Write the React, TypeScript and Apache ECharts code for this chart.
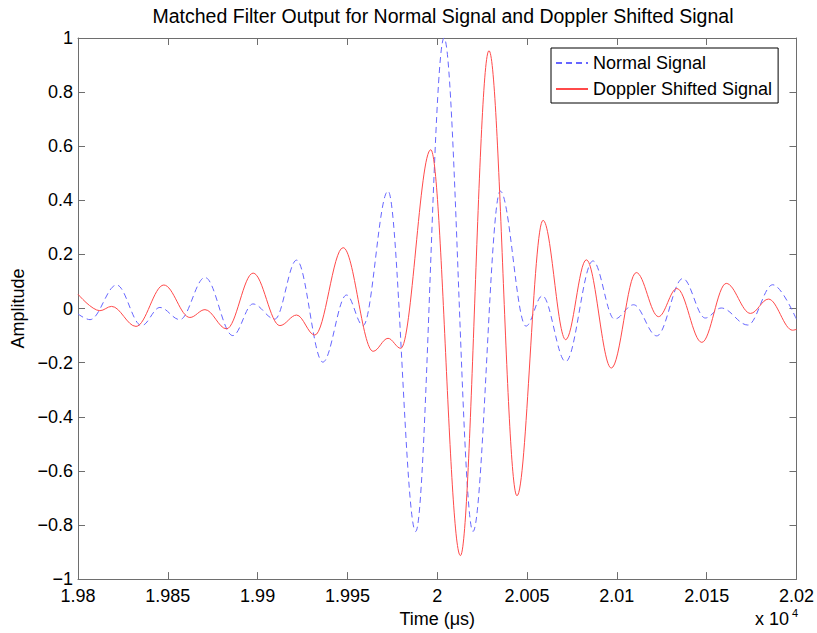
import React, { useEffect, useRef } from "react";
import * as echarts from "echarts";

// Time in µs (axis shows value / 1e4), amplitude values read at local extrema
const normalSignal: [number, number][] = [
  [19800, -0.02], [19806.7, -0.041], [19821.5, 0.087], [19835.4, -0.063], [19845.6, 0.004],
  [19856.7, -0.041], [19870.7, 0.115], [19886.2, -0.1], [19897.4, 0.017], [19909.6, -0.039],
  [19921.7, 0.179], [19936.3, -0.198], [19949.5, 0.05], [19958.7, -0.063], [19972.6, 0.434],
  [19988.0, -0.824], [20003.8, 1.0], [20019.9, -0.824], [20035.1, 0.434], [20049.4, -0.065],
  [20058.5, 0.047], [20071.5, -0.196], [20086.7, 0.176], [20098.7, -0.039], [20109.3, 0.014],
  [20122.2, -0.101], [20136.7, 0.111], [20149.2, -0.035], [20158.1, 0.002], [20172.9, -0.061],
  [20186.8, 0.088], [20200, -0.04],
];

const dopplerSignal: [number, number][] = [
  [19800, 0.053], [19812.2, -0.008], [19818.7, 0.008], [19832.3, -0.066], [19847.8, 0.087],
  [19862.3, -0.033], [19870.7, -0.004], [19882.7, -0.075], [19897.5, 0.131], [19912.4, -0.063],
  [19921.7, -0.024], [19931.8, -0.098], [19947.6, 0.225], [19964.3, -0.158], [19972.6, -0.11],
  [19979.7, -0.147], [19996.4, 0.587], [20012.9, -0.913], [20028.8, 0.953], [20044.4, -0.692],
  [20058.9, 0.326], [20071.5, -0.115], [20083.0, 0.18], [20096.9, -0.22], [20110.8, 0.133],
  [20123.2, -0.03], [20133.4, 0.074], [20147.3, -0.125], [20160.9, 0.093], [20174.4, -0.018],
  [20184.4, 0.035], [20197.8, -0.08], [20200, -0.077],
];

const seriesNames = ["Normal Signal", "Doppler Shifted Signal"];
const xTickLabels = ["1.98", "1.985", "1.99", "1.995", "2", "2.005", "2.01", "2.015", "2.02"];
const yTickLabels = ["\u22121", "\u22120.8", "\u22120.6", "\u22120.4", "\u22120.2", "0", "0.2", "0.4", "0.6", "0.8", "1"];

const FONT = "'Liberation Sans', Arial, Helvetica, sans-serif";
const AXIS_COLOR = "#6e6e6e";

export default function App() {
  const ref = useRef<HTMLDivElement>(null);

  useEffect(() => {
    if (!ref.current) return;
    const chart = echarts.init(ref.current, undefined, { renderer: "svg" });

    const xFmt = (v: number) => {
      const i = Math.round((v - 19800) / 50);
      return xTickLabels[i] ?? "";
    };
    const yFmt = (v: number) => {
      const i = Math.round((v + 1) / 0.2);
      return yTickLabels[i] ?? "";
    };

    const common = {
      type: "value" as const,
      axisLine: { show: true, onZero: false, lineStyle: { color: AXIS_COLOR, width: 1 } },
      axisTick: { show: true, inside: true, length: 7, lineStyle: { color: AXIS_COLOR, width: 1 } },
      splitLine: { show: false },
    };

    chart.setOption({
      animation: false,
      backgroundColor: "#fff",
      title: {
        text: "Matched Filter Output for Normal Signal and Doppler Shifted Signal",
        left: 443,
        top: 6,
        padding: 0,
        textAlign: "center",
        textStyle: { fontSize: 19.5, fontWeight: "normal", color: "#000", fontFamily: FONT },
      },
      grid: { left: 78, right: 20, top: 38, bottom: 52, containLabel: false },
      legend: {
        orient: "vertical",
        left: 551,
        top: 48,
        data: seriesNames,
        backgroundColor: "#fff",
        borderColor: "#000",
        borderWidth: 1,
        borderRadius: 0,
        padding: [6, 6, 5, 4],
        itemWidth: 32,
        itemHeight: 14,
        itemGap: 8,
        itemStyle: { opacity: 0 },
        textStyle: { fontSize: 18, color: "#000", fontFamily: FONT },
      },
      xAxis: [
        {
          ...common,
          position: "bottom",
          min: 19800,
          max: 20200,
          interval: 50,
          name: "Time (\u03bcs)",
          nameLocation: "middle",
          nameGap: 22,
          nameTextStyle: { fontSize: 18, color: "#000", fontFamily: FONT },
          axisLabel: { formatter: xFmt, fontSize: 18, lineHeight: 16, color: "#000", fontFamily: FONT, margin: 9 },
        },
        {
          ...common,
          position: "top",
          min: 19800,
          max: 20200,
          interval: 50,
          axisLabel: { show: false },
        },
      ],
      yAxis: [
        {
          ...common,
          position: "left",
          min: -1,
          max: 1,
          interval: 0.2,
          name: "Amplitude",
          nameLocation: "middle",
          nameGap: 32,
          nameRotate: 90,
          nameTextStyle: { fontSize: 18, color: "#000", fontFamily: FONT },
          axisLabel: { formatter: yFmt, fontSize: 18, lineHeight: 14, color: "#000", fontFamily: FONT, margin: 5 },
        },
        {
          ...common,
          position: "right",
          min: -1,
          max: 1,
          interval: 0.2,
          axisLabel: { show: false },
        },
      ],
      graphic: [
        {
          type: "text",
          left: 755,
          top: 610,
          style: { text: "x 10", font: `18px ${FONT}`, fill: "#000" },
        },
        {
          type: "text",
          left: 792,
          top: 607,
          style: { text: "4", font: `11px ${FONT}`, fill: "#000" },
        },
      ],
      series: [
        {
          name: seriesNames[0],
          type: "line",
          data: normalSignal,
          xAxisIndex: 0,
          yAxisIndex: 0,
          symbol: "none",
          showSymbol: false,
          smooth: 0.36,
          smoothMonotone: "x",
          lineStyle: { color: "#6666ff", width: 1, type: [6, 4] },
          itemStyle: { color: "#6666ff" },
          z: 2,
        },
        {
          name: seriesNames[1],
          type: "line",
          data: dopplerSignal,
          xAxisIndex: 0,
          yAxisIndex: 0,
          symbol: "none",
          showSymbol: false,
          smooth: 0.36,
          smoothMonotone: "x",
          lineStyle: { color: "#ff4a4a", width: 1, type: "solid" },
          itemStyle: { color: "#ff4a4a" },
          z: 3,
        },
      ],
    });

    return () => chart.dispose();
  }, []);

  return (
    <div
      ref={ref}
      style={{ position: "absolute", left: 0, top: 0, width: 817, height: 633 }}
    />
  );
}
